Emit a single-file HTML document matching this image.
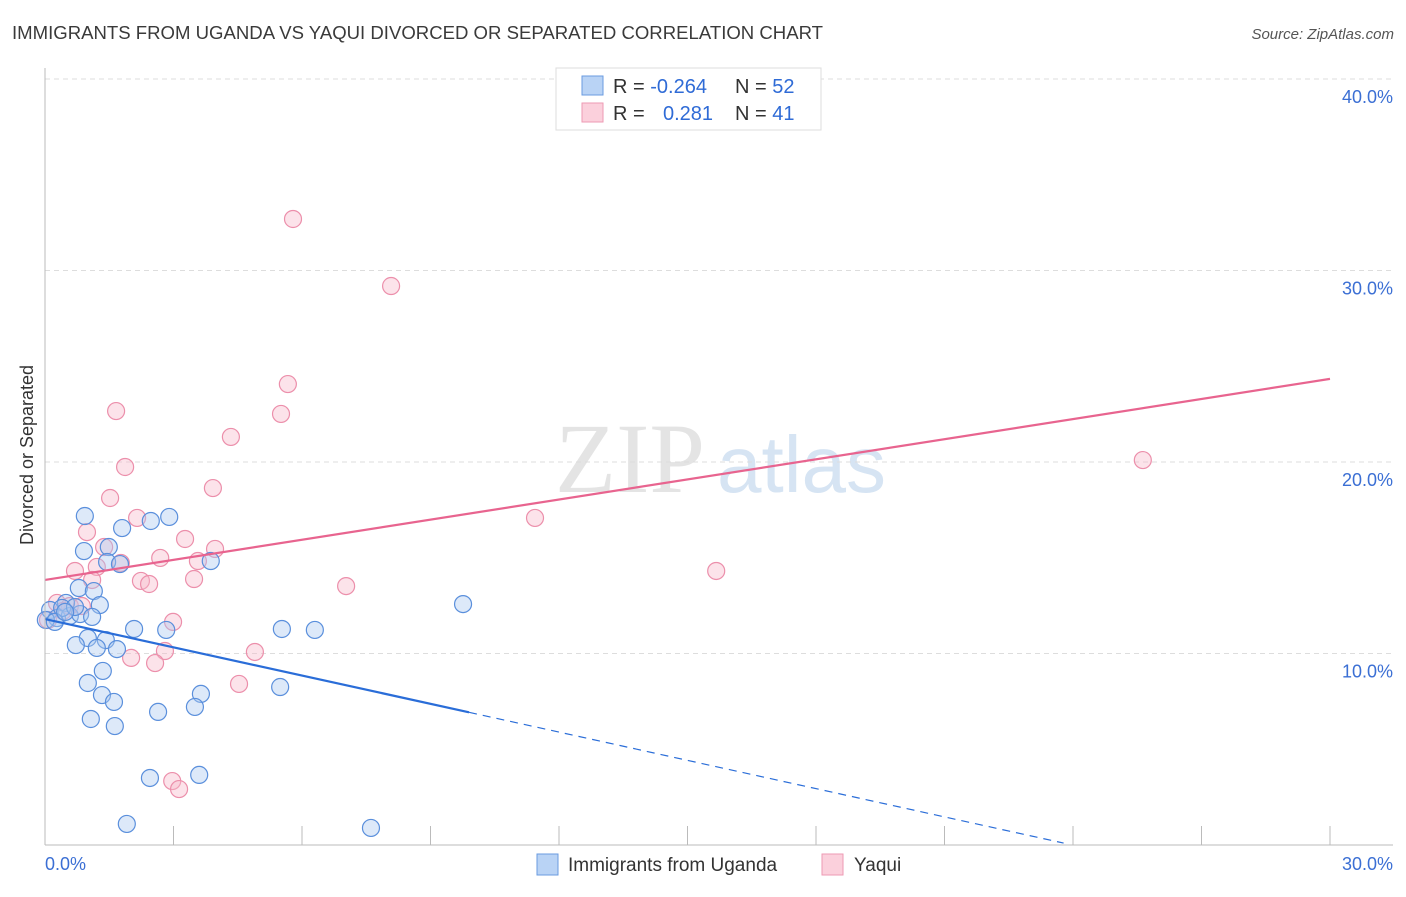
<!DOCTYPE html>
<html><head><meta charset="utf-8"><style>
body{margin:0;background:#fff;font-family:"Liberation Sans",sans-serif;}
</style></head><body>
<svg width="1406" height="892" xmlns="http://www.w3.org/2000/svg" font-family="Liberation Sans, sans-serif">
<text x="12" y="39" font-size="18" fill="#3a3a3a" textLength="811" lengthAdjust="spacingAndGlyphs">IMMIGRANTS FROM UGANDA VS YAQUI DIVORCED OR SEPARATED CORRELATION CHART</text>
<text x="1394" y="39" font-size="15" fill="#555" font-style="italic" text-anchor="end">Source: ZipAtlas.com</text>
<text x="0" y="0" font-size="18" fill="#333" transform="translate(33,455) rotate(-90)" text-anchor="middle">Divorced or Separated</text>
<text x="555" y="492" font-size="100" fill="#e4e4e4" font-family="Liberation Serif, serif">ZIP</text>
<text x="717" y="492" font-size="80" fill="#d6e4f3">atlas</text>
<g id="grid"></g><g id="ticks"></g><g id="pts"></g><g id="lines"></g>
<line x1="45" y1="68" x2="45" y2="845" stroke="#bbb"/>
<line x1="45" y1="845" x2="1393" y2="845" stroke="#bbb"/>
<text x="45" y="870" font-size="18" fill="#3b6fd4">0.0%</text>
<text x="1393" y="870" font-size="18" fill="#3b6fd4" text-anchor="end">30.0%</text>
<g>
<rect x="556" y="68" width="265" height="62" fill="#fff" stroke="#ddd"/>
<rect x="582" y="76" width="21" height="19" fill="#b9d3f5" stroke="#6a9be0"/>
<rect x="582" y="103" width="21" height="19" fill="#fbd0dc" stroke="#ee9ab3"/>
<text x="613" y="93" font-size="20" fill="#333">R = <tspan fill="#2f6bd6">-0.264</tspan></text>
<text x="735" y="93" font-size="20" fill="#333">N = <tspan fill="#2f6bd6">52</tspan></text>
<text x="613" y="120" font-size="20" fill="#333">R = <tspan x="663" fill="#2f6bd6">0.281</tspan></text>
<text x="735" y="120" font-size="20" fill="#333">N = <tspan fill="#2f6bd6"> 41</tspan></text>
</g>
<g><rect x="537" y="854" width="21" height="21" fill="#b9d3f5" stroke="#6a9be0"/><text x="568" y="871" font-size="19" fill="#333">Immigrants from Uganda</text></g>
<g><rect x="822" y="854" width="21" height="21" fill="#fbd0dc" stroke="#ee9ab3"/><text x="854" y="871" font-size="19" fill="#333">Yaqui</text></g>
</svg>
<script>
const yTicks=[10,20,30,40];
const blueX=[0.93,2.47,2.90,1.80,0.91,1.49,1.45,1.75,3.87,0.79,1.14,1.28,9.76,0.49,0.12,0.28,0.58,0.82,1.10,0.40,0.02,0.70,2.08,2.83,5.53,6.30,1.00,0.72,1.42,1.21,1.68,1.35,1.00,1.33,1.61,3.64,5.49,3.50,2.64,1.07,1.63,2.45,3.60,1.91,7.61,0.23,0.47];
const blueY=[17.18,16.92,17.13,16.55,15.35,15.56,14.78,14.67,14.83,13.42,13.26,12.53,12.58,12.64,12.27,11.85,11.96,12.06,11.91,12.38,11.75,12.43,11.28,11.23,11.28,11.23,10.81,10.44,10.70,10.29,10.23,9.09,8.46,7.83,7.47,7.89,8.25,7.21,6.95,6.58,6.21,3.50,3.66,1.10,0.89,11.65,12.17];
const pinkX=[5.79,8.08,5.67,5.51,1.66,4.34,1.87,25.63,3.92,1.52,11.44,2.15,0.98,3.27,1.38,3.97,2.69,1.77,1.21,3.57,0.70,15.67,1.10,2.24,2.43,3.48,7.03,2.99,0.28,0.58,0.07,0.42,2.80,4.90,2.01,2.57,4.53,2.97,3.13,0.86];
const pinkY=[32.69,29.19,24.07,22.51,22.66,21.31,19.74,20.10,18.64,18.12,17.08,17.08,16.34,15.98,15.56,15.46,14.99,14.73,14.52,14.83,14.31,14.31,13.84,13.79,13.63,13.89,13.52,11.65,12.64,12.48,11.75,12.22,10.13,10.08,9.77,9.50,8.41,3.34,2.92,12.48];
const blueFit=[11.8,-0.492];
const pinkFit=[13.84,0.35];
const NS='http://www.w3.org/2000/svg';
const sx=v=>45+v/30*1285, sy=v=>845-v*19.15;
function mk(t,a,p){const e=document.createElementNS(NS,t);for(const k in a)e.setAttribute(k,a[k]);document.getElementById(p).appendChild(e);return e;}
yTicks.forEach(t=>{
 const l=mk('line',{x1:45,x2:1393,y1:sy(t),y2:sy(t),stroke:'#ddd','stroke-dasharray':'5,4'},'grid');
 
 
 const tx=mk('text',{x:1393,y:sy(t)+24,'font-size':18,fill:'#3b6fd4','text-anchor':'end'},'grid');
 tx.textContent=t.toFixed(1)+'%';
 
 
});
for(let i=0;i<=10;i++){
 const l=mk('line',{x1:sx(i*3),x2:sx(i*3),y1:826,y2:845,stroke:'#bbb'},'ticks');
 
 
}
function pts(X,Y,f,s,n){X.forEach((x,i)=>{
 const c=mk('circle',{cx:sx(x),cy:sy(Y[i]),r:8.5,fill:f,'fill-opacity':0.4,stroke:s,'stroke-width':1.2},'pts');
 
 
});}
pts(pinkX,pinkY,'#f7b8cb','#ec8fab','yaqui-point');
pts(blueX,blueY,'#a9c8f0','#5a8fdc','uganda-point');
const bEnd=Math.min((0.1-blueFit[0])/blueFit[1],30);
const b1=mk('line',{x1:sx(0),y1:sy(blueFit[0]),x2:sx(9.9),y2:sy(blueFit[0]+blueFit[1]*9.9),stroke:'#2a6dd8','stroke-width':2.2},'lines');


const b2=mk('line',{x1:sx(9.9),y1:sy(blueFit[0]+blueFit[1]*9.9),x2:sx(bEnd),y2:sy(blueFit[0]+blueFit[1]*bEnd),stroke:'#2a6dd8','stroke-width':1.2,'stroke-dasharray':'8,6'},'lines');


const p1=mk('line',{x1:sx(0),y1:sy(pinkFit[0]),x2:sx(30),y2:sy(pinkFit[0]+pinkFit[1]*30),stroke:'#e8648f','stroke-width':2.2},'lines');


</script>
</body></html>
